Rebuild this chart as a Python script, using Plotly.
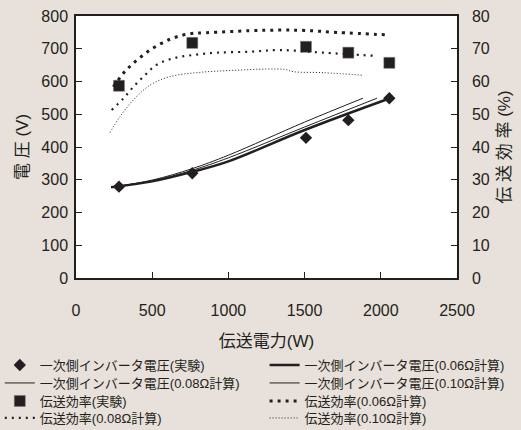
import plotly.graph_objects as go

# Transmitted power (W) and measured values
exp_power = [282, 763, 1509, 1787, 2056]
exp_voltage = [279, 320, 428, 482, 549]
exp_eff = [58.7, 71.8, 70.6, 68.8, 65.7]

# Calculated primary inverter voltage (V)
v006_power = [230, 500, 763, 1000, 1500, 2060]
v006_volt = [277, 295, 324, 356, 452, 549]
v008_power = [230, 500, 763, 1000, 1500, 1975]
v008_volt = [277, 297, 329, 367, 461, 549]
v010_power = [230, 500, 763, 1000, 1500, 1883]
v010_volt = [277, 299, 334, 375, 476, 549]

# Calculated transmission efficiency (%)
e006_power = [245, 311, 377, 486, 617, 737, 858, 1142, 1339, 1500, 1711, 2060]
e006_eff = [58.4, 62.5, 65.6, 69.6, 72.9, 74.5, 74.9, 75.5, 75.7, 75.6, 75.0, 74.2]
e008_power = [234, 312, 377, 443, 525, 639, 770, 923, 1142, 1339, 1622, 1973]
e008_eff = [51.3, 54.9, 58.4, 61.5, 65.0, 67.1, 68.1, 68.8, 69.1, 69.6, 68.8, 67.8]
e010_power = [223, 289, 377, 486, 617, 814, 1032, 1251, 1371, 1426, 1623, 1885]
e010_eff = [44.4, 49.3, 54.4, 58.9, 61.5, 62.8, 63.4, 63.8, 63.7, 63.0, 62.7, 61.9]

names = [
    "一次側インバータ電圧(実験)",
    "一次側インバータ電圧(0.06Ω計算)",
    "一次側インバータ電圧(0.08Ω計算)",
    "一次側インバータ電圧(0.10Ω計算)",
    "伝送効率(実験)",
    "伝送効率(0.06Ω計算)",
    "伝送効率(0.08Ω計算)",
    "伝送効率(0.10Ω計算)",
]

INK = "#231f20"
BG = "#e8e0da"
FONT = "Liberation Sans, Noto Sans CJK JP, sans-serif"

fig = go.Figure()
fig.add_trace(go.Scatter(x=exp_power, y=exp_voltage, mode="markers", name=names[0], legend="legend",
                         marker=dict(symbol="diamond", size=9.5, color=INK)))
fig.add_trace(go.Scatter(x=v006_power, y=v006_volt, mode="lines", name=names[1], legend="legend2",
                         line=dict(color=INK, width=2.5, shape="spline")))
fig.add_trace(go.Scatter(x=v008_power, y=v008_volt, mode="lines", name=names[2], legend="legend3",
                         line=dict(color=INK, width=1, shape="spline")))
fig.add_trace(go.Scatter(x=v010_power, y=v010_volt, mode="lines", name=names[3], legend="legend4",
                         line=dict(color=INK, width=1, shape="spline")))
fig.add_trace(go.Scatter(x=exp_power, y=exp_eff, mode="markers", name=names[4], yaxis="y2", legend="legend5",
                         marker=dict(symbol="square", size=11, color=INK,
                                     line=dict(color="#777", width=0.5))))
fig.add_trace(go.Scatter(x=e006_power, y=e006_eff, mode="lines", name=names[5], yaxis="y2", legend="legend6",
                         line=dict(color=INK, width=3, dash="3px,5px", shape="spline")))
fig.add_trace(go.Scatter(x=e008_power, y=e008_eff, mode="lines", name=names[6], yaxis="y2", legend="legend7",
                         line=dict(color=INK, width=2.2, dash="2px,5px", shape="spline")))
fig.add_trace(go.Scatter(x=e010_power, y=e010_eff, mode="lines", name=names[7], yaxis="y2", legend="legend8",
                         line=dict(color=INK, width=1, dash="1px,2px", shape="spline")))

axis_common = dict(showline=True, linecolor=INK, linewidth=1.5, ticks="inside",
                   tickcolor=INK, ticklen=6, showgrid=False, zeroline=False,
                   tickfont=dict(family=FONT, size=16, color=INK))

PLOT_TOP, PLOT_BOTTOM = 16, 278
row_px = [365, 383, 401, 418]
col_x = [-0.2, 0.495]


def row_y(px):
    return (PLOT_BOTTOM - px) / (PLOT_BOTTOM - PLOT_TOP)


legend_common = dict(orientation="v", yanchor="middle", xanchor="left",
                     font=dict(family=FONT, size=13, color=INK),
                     bgcolor="rgba(0,0,0,0)", itemwidth=30, tracegroupgap=0)

legends = {}
for i in range(8):
    key = "legend" if i == 0 else "legend%d" % (i + 1)
    legends[key] = dict(x=col_x[i % 2], y=row_y(row_px[i // 2]), **legend_common)

fig.update_layout(
    width=521, height=430,
    margin=dict(l=76, r=64, t=PLOT_TOP, b=430 - PLOT_BOTTOM, autoexpand=False),
    paper_bgcolor=BG, plot_bgcolor="white",
    font=dict(family=FONT, color=INK),
    showlegend=True,
    xaxis=dict(range=[0, 2500], dtick=500, mirror=True,
               ticklabelstandoff=17,
               title=dict(text="伝送電力(W)", font=dict(family=FONT, size=17, color=INK), standoff=17),
               **axis_common),
    yaxis=dict(range=[0, 800], dtick=100, ticklabelstandoff=3,
               title=dict(text="電 圧 (V)", font=dict(family=FONT, size=17, color=INK), standoff=8),
               **axis_common),
    yaxis2=dict(range=[0, 80], dtick=10, overlaying="y", side="right", ticklabelstandoff=10,
                title=dict(text="伝 送 効 率 (%)", font=dict(family=FONT, size=17, color=INK), standoff=9),
                **axis_common),
    **legends,
)

fig.write_html(
    "out.html",
    config={"displayModeBar": False},
    post_script="document.body.style.margin='0';document.body.style.background='%s';" % BG,
)
